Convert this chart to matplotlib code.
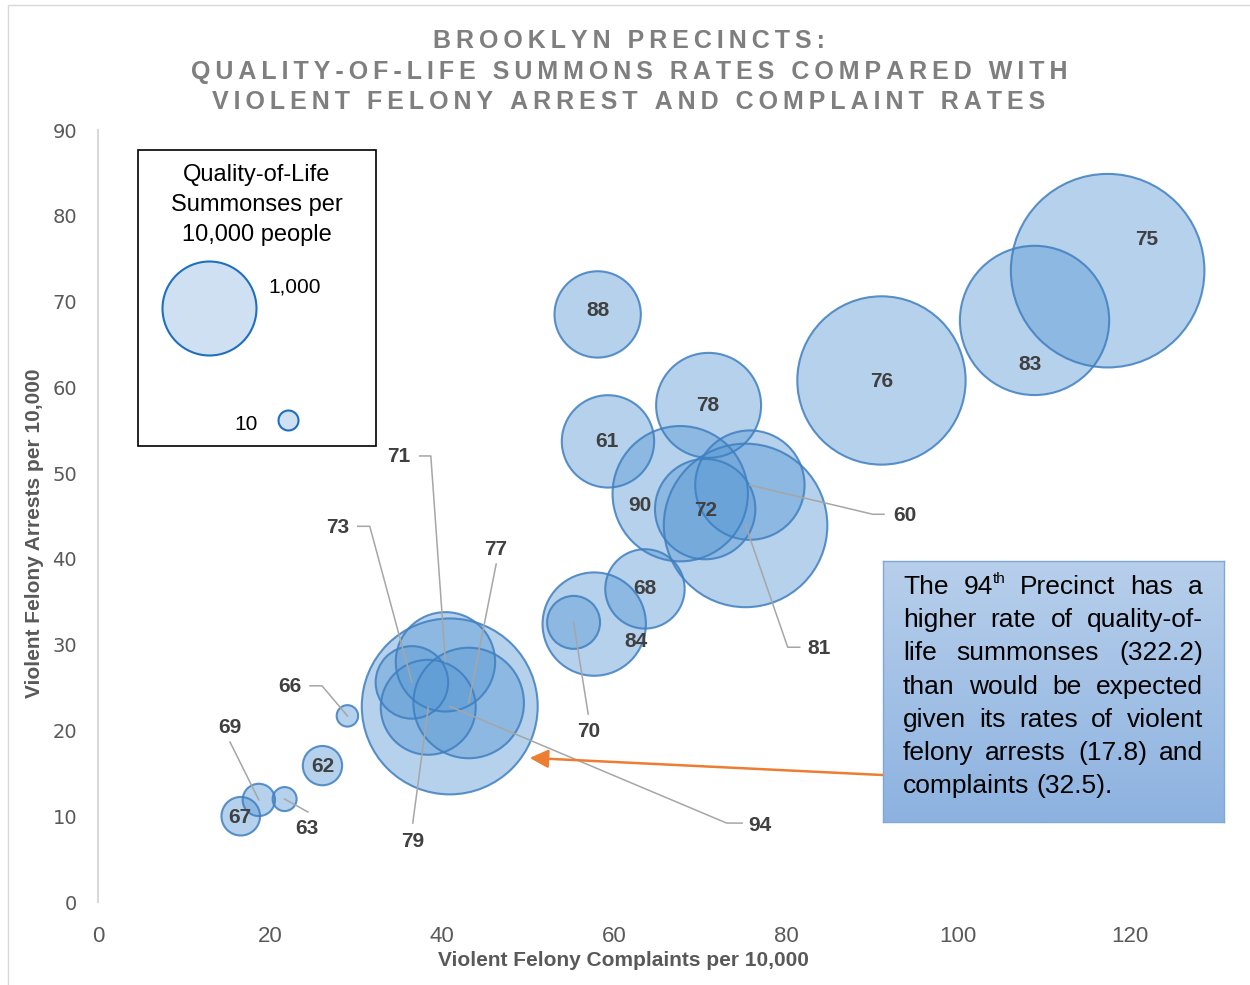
import matplotlib
matplotlib.use('Agg')  # no display in the sandbox
import matplotlib.pyplot as plt
from matplotlib.colors import LinearSegmentedColormap
from matplotlib.font_manager import FontProperties
from matplotlib.patches import Rectangle
import numpy as np

# --- DATA ---
precincts = ['75', '83', '76', '88', '78', '61', '90', '72', '60', '81', '68', '84',
             '70', '94', '71', '73', '77', '79', '66', '62', '69', '63', '67']
complaints = [117.4, 108.9, 91.1, 58.1, 71.0, 59.3, 67.7, 70.6, 75.8, 75.3, 63.6, 57.7,
              55.3, 40.9, 40.4, 36.5, 43.1, 38.4, 29.0, 26.1, 18.7, 21.7, 16.6]
arrests = [73.6, 67.8, 60.8, 68.5, 57.9, 53.7, 47.6, 45.8, 48.6, 43.9, 36.5, 32.4,
           32.6, 22.8, 28.0, 25.6, 23.2, 22.7, 21.7, 15.9, 11.9, 12.0, 10.0]
summonses = [390, 232, 295, 77.6, 114.7, 88.8, 190.7, 104.8, 124.5, 278.4, 65.6, 111.2,
             29.2, 322.2, 102.8, 54.8, 127.2, 93.9, 4.8, 16.1, 10.9, 6.0, 15.5]

x_ticks = [0, 20, 40, 60, 80, 100, 120]
y_ticks = [0, 10, 20, 30, 40, 50, 60, 70, 80, 90]
legend_values = ['1,000', '10']

title_lines = ['BROOKLYN PRECINCTS:',
               'QUALITY-OF-LIFE SUMMONS RATES COMPARED WITH',
               'VIOLENT FELONY ARREST AND COMPLAINT RATES']

# label text position + leader elbow points (data coords); empty = label sits in bubble
label_layout = {
    '75': ((121.9, 77.2), []), '83': ((108.4, 62.7), []), '76': ((91.1, 60.7), []),
    '88': ((58.1, 68.9), []), '78': ((70.9, 57.9), []), '61': ((59.2, 53.7), []),
    '90': ((63.0, 46.2), []), '72': ((70.7, 45.6), []), '68': ((63.6, 36.5), []),
    '84': ((62.6, 30.4), []), '62': ((26.1, 15.85), []), '67': ((16.5, 9.9), []),
    '60': ((93.8, 45.1), [(91.4, 45.2), (90.1, 45.2)]),
    '81': ((83.8, 29.6), [(81.6, 29.7), (80.2, 29.7)]),
    '70': ((57.1, 19.9), [(57.0, 21.9)]),
    '94': ((77.0, 8.9), [(74.9, 9.2), (73.1, 9.2)]),
    '71': ((35.0, 51.9), [(37.4, 52.0), (38.7, 52.0)]),
    '73': ((27.9, 43.7), [(30.2, 43.8), (31.6, 43.8)]),
    '77': ((46.2, 41.15), [(46.3, 39.4)]),
    '79': ((36.6, 7.1), [(36.6, 9.2)]),
    '66': ((22.3, 25.1), [(24.65, 25.2), (26.05, 25.2)]),
    '69': ((15.35, 20.4), [(15.35, 18.65)]),
    '63': ((24.3, 8.6), [(24.4, 10.5)]),
}

note_lines = [
    ['The', ('94', 'th'), 'Precinct', 'has', 'a'],
    ['higher', 'rate', 'of', 'quality-of-'],
    ['life', 'summonses', '(322.2)'],
    ['than', 'would', 'be', 'expected'],
    ['given', 'its', 'rates', 'of', 'violent'],
    ['felony', 'arrests', '(17.8)', 'and'],
    ['complaints', '(32.5).'],
]

# --- STYLE ---
W, H = 1250, 985
SIZE_SCALE = 49.8
SANS = ['Liberation Sans', 'DejaVu Sans']
BUBBLE_FILL = '#5b9bd5'
BUBBLE_EDGE = '#3f7fc0'
GREY_TXT = '#595959'


def fpos(px, py):
    return px / W, 1 - py / H


fig = plt.figure(figsize=(W / 100, H / 100), dpi=100)
ax = fig.add_axes([98 / W, 83 / H, 1143.8 / W, 772 / H])

# faint chart border
fig.patches.append(Rectangle(fpos(8, 990), 1.0, 1.0, transform=fig.transFigure,
                             fill=False, edgecolor='#d9d9d9', lw=1.0))

ax.scatter(complaints, arrests, s=np.array(summonses) * SIZE_SCALE,
           facecolor=BUBBLE_FILL, alpha=0.45, edgecolor='none', zorder=2)
ax.scatter(complaints, arrests, s=np.array(summonses) * SIZE_SCALE,
           facecolor='none', edgecolor=BUBBLE_EDGE, alpha=0.85, linewidths=1.5, zorder=2)

# data labels + leader lines
for name, cx, cy in zip(precincts, complaints, arrests):
    (tx, ty), path = label_layout[name]
    if path:
        xs = [p[0] for p in path] + [cx]
        ys = [p[1] for p in path] + [cy]
        ax.plot(xs, ys, color='#a6a6a6', lw=1.1, zorder=3)
    ax.text(tx, ty, name, ha='center', va='center', fontsize=15, fontweight='bold',
            color='#404040', family=SANS, zorder=4)

ax.set_xlim(0, 133)
ax.set_ylim(0, 90)
ax.set_xticks(x_ticks)
ax.set_yticks(y_ticks)
ax.tick_params(length=0)
ax.tick_params(axis='x', pad=17, labelsize=16, labelcolor=GREY_TXT)
ax.tick_params(axis='y', pad=15, labelsize=14, labelcolor=GREY_TXT)
for lab in ax.get_xticklabels():
    lab.set_family(SANS)
for lab in ax.get_yticklabels():
    lab.set_family(['DejaVu Sans'])
for side in ['top', 'right', 'bottom']:
    ax.spines[side].set_visible(False)
ax.spines['left'].set_color('#d9d9d9')
ax.spines['left'].set_linewidth(1.5)

ax.set_xlabel('Violent Felony Complaints per 10,000', fontsize=15, fontweight='bold',
              color=GREY_TXT, family=SANS, ha='center', va='center')
ax.xaxis.set_label_coords((623 - 98) / 1143.8, (902 - 961) / 772)
ax.set_ylabel('Violent Felony Arrests per 10,000', fontsize=15, fontweight='bold',
              color=GREY_TXT, family=SANS, ha='center', va='center')
ax.yaxis.set_label_coords((35 - 98) / 1143.8, (902 - 533) / 772)

# title, letter-spaced with thin spaces
for i, line in enumerate(title_lines):
    fig.text(*fpos(629, 41 + 30.5 * i), '\u2009'.join(line), ha='center', va='center',
             fontsize=18, fontweight='bold', color='#7f7f7f', family=SANS)

# size legend box
fig.patches.append(Rectangle(fpos(138, 446), 238 / W, 296 / H, transform=fig.transFigure,
                             fill=False, edgecolor='black', lw=1.2))
fig.text(*fpos(257, 205), 'Quality-of-Life\nSummonses per\n10,000 people', ha='center',
         va='center', fontsize=17, family=SANS, linespacing=1.45)
ax.scatter(*fpos(209, 308), s=4580, transform=fig.transFigure, facecolor='#cfe0f2',
           edgecolor='#1f6fbf', linewidths=1.5, clip_on=False, zorder=5)
ax.scatter(*fpos(288, 420), s=207, transform=fig.transFigure, facecolor='#cfe0f2',
           edgecolor='#1f6fbf', linewidths=1.5, clip_on=False, zorder=5)
fig.text(*fpos(268, 287), legend_values[0], ha='left', va='center', fontsize=15, family=SANS)
fig.text(*fpos(246, 424), legend_values[1], ha='center', va='center', fontsize=15, family=SANS)

# callout box with gradient
box_ax = fig.add_axes([883 / W, 1 - 822 / H, 341 / W, 261 / H])
grad = np.linspace(0, 1, 256).reshape(-1, 1)
box_cmap = LinearSegmentedColormap.from_list('box', ['#b7cfeb', '#8db2e0'])
box_ax.imshow(grad, aspect='auto', cmap=box_cmap, extent=[0, 1, 0, 1], origin='upper')
box_ax.set_xticks([])
box_ax.set_yticks([])
for sp in box_ax.spines.values():
    sp.set_color('#7fa8da')
    sp.set_linewidth(1.0)

# justified callout text
renderer = fig.canvas.get_renderer()
body_fp = FontProperties(family=SANS, size=19)
sup_fp = FontProperties(family=SANS, size=11)


def text_w(s, fp):
    return renderer.get_text_width_height_descent(s, fp, ismath=False)[0]


def word_width(w):
    if isinstance(w, tuple):
        return text_w(w[0], body_fp) + text_w(w[1], sup_fp)
    return text_w(w, body_fp)


space_w = text_w('a a', body_fp) - text_w('aa', body_fp)
left, right = 903, 1203
for i, words in enumerate(note_lines):
    y = 587 + 33.2 * i
    widths = [word_width(w) for w in words]
    if i == len(note_lines) - 1:
        gap = space_w
    else:
        gap = (right - left - sum(widths)) / (len(words) - 1)
    x = left
    for w, wd in zip(words, widths):
        if isinstance(w, tuple):
            fig.text(*fpos(x, y), w[0], ha='left', va='center', fontproperties=body_fp, zorder=6)
            fig.text(*fpos(x + text_w(w[0], body_fp), y - 8), w[1], ha='left', va='center',
                     fontproperties=sup_fp, zorder=6)
        else:
            fig.text(*fpos(x, y), w, ha='left', va='center', fontproperties=body_fp, zorder=6)
        x += wd + gap

# orange arrow to the 94th precinct
ax.annotate('', xy=(50.2, 16.8), xytext=(91.3, 14.8),
            arrowprops=dict(arrowstyle='-|>,head_length=0.8,head_width=0.4', color='#ed7d31',
                            lw=1.8, mutation_scale=14, shrinkA=0, shrinkB=0), zorder=5)

fig.savefig('out.png', dpi=100)
